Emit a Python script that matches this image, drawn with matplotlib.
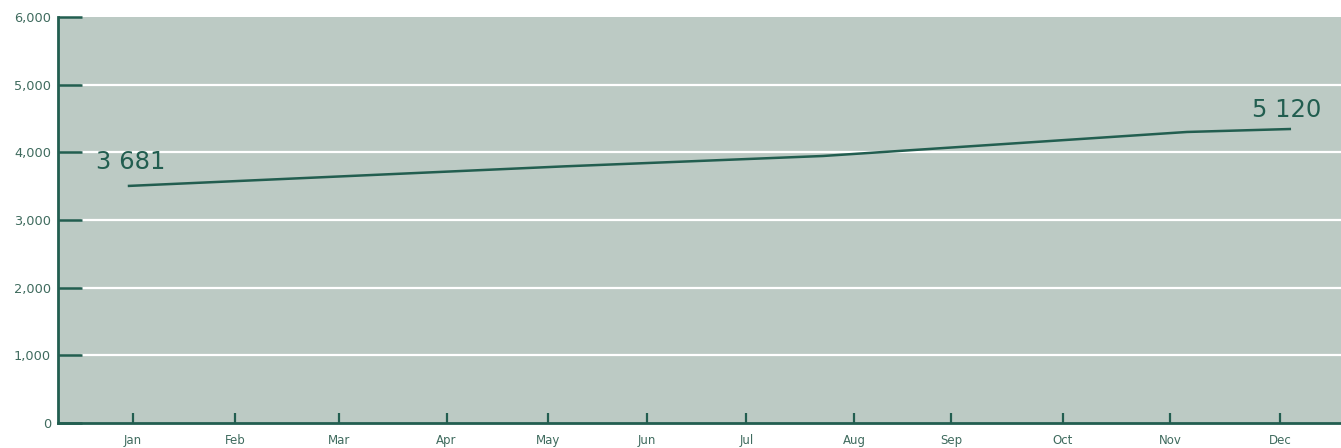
import matplotlib
matplotlib.use("Agg")
import matplotlib.pyplot as plt

# month ticks (positions, in month units from Jan)
month_labels = ["Jan", "Feb", "Mar", "Apr", "May", "Jun",
                "Jul", "Aug", "Sep", "Oct", "Nov", "Dec"]
month_pos = [0.0, 0.98, 1.975, 3.006, 3.979, 4.928,
             5.882, 6.913, 7.843, 8.917, 9.942, 10.997]

# line series
line_x = [-0.05, 4.14, 6.615, 10.106, 11.103]
line_y = [3503, 3793, 3946, 4301, 4345]

start_label = "3 681"
end_label = "5 120"

y_ticks = [0, 1000, 2000, 3000, 4000, 5000, 6000]
grid_vals = [1000, 2000, 3000, 4000, 5000]

bg = "#bccac4"
dark = "#225e50"
label_col = "#3f6b5e"

fig = plt.figure(figsize=(13.41, 4.48), dpi=100)
ax = fig.add_axes([58 / 1341, 25 / 448, 1 - 58 / 1341, (423 - 17) / 448])
ax.set_facecolor(bg)

ax.set_xlim(-0.719, 11.582)
ax.set_ylim(0, 6000)

# white gridlines, starting after the long y ticks
for v in grid_vals:
    ax.axhline(v, xmin=24 / 1283, xmax=1, color="white", lw=1.6, zorder=1)

ax.plot(line_x, line_y, color=dark, lw=1.8, solid_capstyle="butt", zorder=3)

ax.annotate(start_label, xy=(line_x[0], line_y[0]),
            xytext=(-32 * 0.72, 17 * 0.72), textcoords="offset points",
            ha="left", va="baseline", fontsize=17.5, color=dark)
ax.annotate(end_label, xy=(line_x[-1], line_y[-1]),
            xytext=(30 * 0.72, 12 * 0.72), textcoords="offset points",
            ha="right", va="baseline", fontsize=17.5, color=dark)

for s in ["top", "right"]:
    ax.spines[s].set_visible(False)
for s in ["left", "bottom"]:
    ax.spines[s].set_color(dark)
    ax.spines[s].set_linewidth(2)
    ax.spines[s].set_zorder(4)

ax.set_yticks(y_ticks)
ax.set_yticklabels([f"{v:,}" for v in y_ticks])
ax.set_xticks(month_pos)
ax.set_xticklabels(month_labels)

ax.tick_params(axis="y", direction="in", length=17, width=1.8, color=dark,
               labelsize=9.3, labelcolor=label_col, pad=5)
ax.tick_params(axis="x", direction="in", length=7, width=1.6, color=dark,
               labelsize=8.5, labelcolor=label_col, pad=8)

fig.savefig("out.png", dpi=100, facecolor="white")
